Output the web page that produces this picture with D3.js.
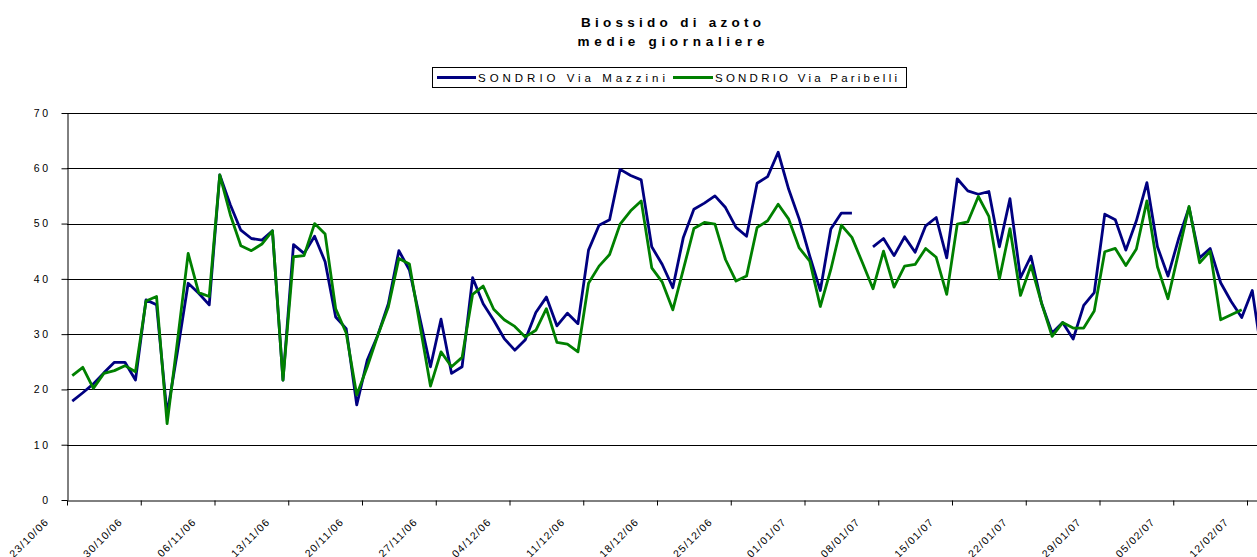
<!DOCTYPE html>
<html>
<head>
<meta charset="utf-8">
<script src="https://cdn.jsdelivr.net/npm/d3@7"></script>
<style>
  html, body { margin: 0; padding: 0; background: #fff; }
  svg { display: block; overflow: hidden; }
  text { font-family: "Liberation Sans", Arial, sans-serif; fill: #000; }
</style>
</head>
<body>
<svg id="chart" width="1257" height="557"></svg>
<script>
// daily averages, first day 23/10/2006 (null = no data)
const mazzini = [
  17.9, 19.4, 21.0, 23.0, 24.9, 24.9, 21.7, 36.2, 35.3, 15.5,
  27.0, 39.2, 37.4, 35.3, 58.8, 53.4, 48.8, 47.3, 47.0, 48.7,
  21.7, 46.2, 44.6, 47.7, 43.1, 33.1, 31.0, 17.2, 25.3, 29.8,
  35.5, 45.1, 41.6, 32.8, 24.1, 32.7, 22.9, 24.1, 40.2, 35.5,
  32.5, 29.2, 27.1, 29.0, 33.9, 36.7, 31.5, 33.8, 31.9, 45.2,
  49.7, 50.7, 59.8, 58.7, 57.9, 45.8, 42.6, 38.4, 47.5, 52.6,
  53.7, 55.0, 52.9, 49.3, 47.7, 57.3, 58.5, 62.9, 56.2, 50.8,
  44.1, 37.9, 49.0, 51.9, 51.9, null, 45.8, 47.3, 44.2, 47.6,
  44.8, 49.6, 51.1, 43.8, 58.1, 55.9, 55.3, 55.8, 45.8, 54.5,
  40.2, 44.1, 35.6, 30.2, 32.1, 29.1, 35.2, 37.5, 51.7, 50.7,
  45.2, 50.5, 57.4, 45.8, 40.5, 47.2, 52.9, 43.8, 45.5, 39.3,
  35.9, 33.0, 37.9, 25.0
];
const paribelli = [
  22.5, 24.0, 20.2, 22.9, 23.4, 24.3, 23.2, 36.0, 36.8, 13.8,
  29.0, 44.6, 37.5, 36.8, 58.8, 51.6, 46.0, 45.1, 46.3, 48.7,
  21.7, 44.0, 44.2, 50.0, 48.1, 34.6, 30.2, 19.0, 24.1, 29.8,
  34.9, 43.7, 42.7, 31.6, 20.6, 26.8, 24.1, 25.8, 37.2, 38.7,
  34.5, 32.6, 31.4, 29.5, 30.7, 34.6, 28.5, 28.2, 26.8, 39.2,
  42.3, 44.4, 49.9, 52.3, 54.1, 42.0, 39.4, 34.4, 41.7, 49.1,
  50.2, 49.9, 43.5, 39.6, 40.5, 49.3, 50.5, 53.5, 50.8, 45.6,
  43.2, 35.0, 41.7, 49.7, 47.5, 42.9, 38.2, 45.0, 38.5, 42.3,
  42.6, 45.5, 43.9, 37.2, 49.9, 50.3, 54.9, 51.3, 40.0, 49.1,
  37.0, 42.4, 35.6, 29.6, 32.1, 31.1, 31.1, 34.2, 44.9, 45.5,
  42.4, 45.4, 54.1, 42.2, 36.4, 44.7, 53.1, 42.9, 45.0, 32.6,
  33.5, 34.4, null, null
];
const seriesNames = ["SONDRIO Via  Mazzini", "SONDRIO Via Paribelli"];
const seriesColors = ["#000080", "#008000"];
const yTicks = [0, 10, 20, 30, 40, 50, 60, 70];
const titleLines = ["Biossido di azoto", "medie  giornaliere"];

const startDate = new Date(Date.UTC(2006, 9, 23));
const dayMs = 24 * 3600 * 1000;
const nDays = 116;
const pxPerDay = 1180 / 112;

const svg = d3.select("#chart");
svg.append("rect").attr("width", 1257).attr("height", 557).attr("fill", "#fff");

const plotLeft = 67, plotTop = 113, plotBottom = 500;
const plotRight = plotLeft + nDays * pxPerDay;

const x = d3.scaleUtc()
  .domain([startDate, new Date(startDate.getTime() + nDays * dayMs)])
  .range([plotLeft, plotRight]);
const y = d3.scaleLinear().domain([0, 70]).range([plotBottom, plotTop]);

// gridlines
svg.append("g")
  .selectAll("line")
  .data(yTicks.slice(1))
  .join("line")
  .attr("x1", plotLeft).attr("x2", plotRight)
  .attr("y1", d => Math.round(y(d)) + 0.5).attr("y2", d => Math.round(y(d)) + 0.5)
  .attr("stroke", "#000").attr("stroke-width", 1);

// y axis
const yAxis = svg.append("g")
  .attr("transform", `translate(${plotLeft + 0.5},0)`)
  .call(d3.axisLeft(y).tickValues(yTicks).tickSize(6).tickPadding(11).tickSizeOuter(0));
yAxis.select(".domain").attr("stroke", "#000");
yAxis.selectAll("text")
  .attr("font-size", "10.5px").attr("letter-spacing", "2.5px")
  .attr("font-family", "Liberation Sans, Arial, sans-serif");

// x axis
const mondays = d3.utcMonday.range(startDate, new Date(startDate.getTime() + 113 * dayMs));
const xAxis = svg.append("g")
  .attr("transform", `translate(0,${plotBottom + 0.5})`)
  .call(d3.axisBottom(x).tickValues(mondays).tickSize(5).tickSizeOuter(0)
    .tickFormat(d3.utcFormat("%d/%m/%y")));
xAxis.select(".domain").attr("stroke", "#000");
xAxis.selectAll("text")
  .attr("font-size", "10.5px").attr("letter-spacing", "1.2px")
  .attr("font-family", "Liberation Sans, Arial, sans-serif")
  .attr("x", 0).attr("y", 0).attr("dy", null)
  .attr("text-anchor", "end")
  .attr("transform", "translate(-18,22) rotate(-45)");

// series lines
const dayX = i => x(new Date(startDate.getTime() + (i + 0.5) * dayMs));
const line = d3.line()
  .defined(d => d != null)
  .x((d, i) => dayX(i))
  .y(d => y(d));

[mazzini, paribelli].forEach((vals, k) => {
  svg.append("path")
    .datum(vals)
    .attr("fill", "none")
    .attr("stroke", seriesColors[k])
    .attr("stroke-width", 2.8)
    .attr("stroke-linejoin", "round")
    .attr("d", line);
});

// title
svg.selectAll(".title")
  .data(titleLines)
  .join("text")
  .attr("class", "title")
  .attr("x", 671).attr("y", (d, i) => 26.5 + i * 19)
  .attr("text-anchor", "middle")
  .attr("font-size", "13.5px").attr("font-weight", "bold")
  .attr("textLength", (d, i) => i ? 187 : 180)
  .attr("lengthAdjust", "spacing")
  .text(d => d);

// legend
const legend = svg.append("g");
legend.append("rect")
  .attr("x", 432.5).attr("y", 67.5).attr("width", 474).attr("height", 20)
  .attr("fill", "#fff").attr("stroke", "#000");
const legendItems = [
  { x0: 437, x1: 476, tx: 478, tl: 187 },
  { x0: 673, x1: 713, tx: 715, tl: 182 }
];
legendItems.forEach((it, k) => {
  legend.append("line")
    .attr("x1", it.x0).attr("x2", it.x1).attr("y1", 77.5).attr("y2", 77.5)
    .attr("stroke", seriesColors[k]).attr("stroke-width", 2.8);
  legend.append("text")
    .attr("x", it.tx).attr("y", 82)
    .attr("font-size", "11.5px")
    .attr("textLength", it.tl).attr("lengthAdjust", "spacing")
    .text(seriesNames[k]);
});
</script>
</body>
</html>
